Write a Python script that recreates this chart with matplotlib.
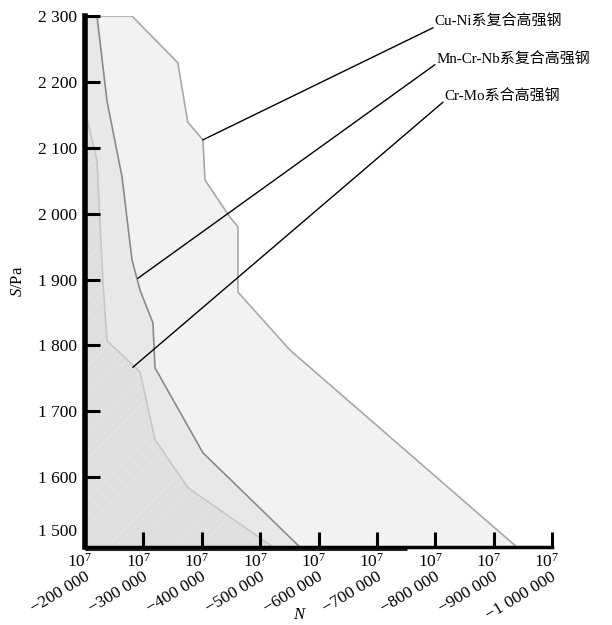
import matplotlib
matplotlib.use('Agg')
import matplotlib.pyplot as plt
import matplotlib.transforms as mtransforms

plt.rcParams['font.family'] = ['Liberation Serif', 'Noto Sans CJK SC', 'DejaVu Sans']
plt.rcParams['mathtext.fontset'] = 'custom'
plt.rcParams['mathtext.rm'] = 'Liberation Serif'
plt.rcParams['mathtext.it'] = 'Liberation Serif:italic'
plt.rcParams['hatch.linewidth'] = 0.6

# boundaries of the three regions (N magnitude, S)
cuni_x = [220500, 280500, 359000, 376000, 402000, 405500, 448000, 462000, 462000, 551000, 939700]
cuni_y = [2300, 2300, 2229, 2139, 2112, 2051, 1995, 1980, 1881, 1793, 1494]

mncrnb_x = [220500, 237700, 263400, 280500, 294200, 316400, 319900, 402000, 568000]
mncrnb_y = [2300, 2171, 2056, 1930, 1884, 1834, 1766, 1637, 1494]

crmo_x = [200000, 220500, 230800, 237700, 294200, 319900, 376300, 522000]
crmo_y = [2157, 2081, 1896, 1807, 1760, 1657, 1584, 1494]

# callout lines: (start point on region, end point at label)
labels = ['Cu-Ni系复合高强钢', 'Mn-Cr-Nb系复合高强钢', 'Cr-Mo系合高强钢']
call_start = [(402000, 2112), (290800, 1902), (282200, 1767)]
call_end = [(795900, 2282), (799300, 2226), (813000, 2169)]
label_y = [2291, 2233, 2177]

x_ticks = [200000, 300000, 400000, 500000, 600000, 700000, 800000, 900000, 1000000]
x_ticklabels = ['\u2212200 000', '\u2212300 000', '\u2212400 000', '\u2212500 000',
                '\u2212600 000', '\u2212700 000', '\u2212800 000', '\u2212900 000',
                '\u22121 000 000']
y_ticks = [1500, 1600, 1700, 1800, 1900, 2000, 2100, 2200, 2300]
y_ticklabels = ['1 500', '1 600', '1 700', '1 800', '1 900', '2 000', '2 100', '2 200', '2 300']

fig = plt.figure(figsize=(6.12, 6.25), dpi=100)
ax = fig.add_axes([85 / 612, 1 - 547 / 625, 467 / 612, 531 / 625])
x0, y0 = 200000, 1494

# Cu-Ni region
ax.fill_betweenx(cuni_y, x0, cuni_x, facecolor='#f2f2f2', edgecolor='none', zorder=1)
ax.plot(cuni_x, cuni_y, color='#a8a8a8', lw=1.2, zorder=2)
# Mn-Cr-Nb region
ax.fill_betweenx(mncrnb_y, x0, mncrnb_x, facecolor='#e8e8e8', edgecolor='none', zorder=3)
ax.plot(mncrnb_x, mncrnb_y, color='#8a8a8a', lw=1.2, zorder=4)
# Cr-Mo region
ax.fill_betweenx(crmo_y, x0, crmo_x, facecolor='#e0e0e0', edgecolor='#dbdbdb',
                 hatch='////', lw=0, zorder=5)
ax.plot(crmo_x, crmo_y, color='#c6c6c6', lw=1.2, zorder=6)

for (sx, sy), (ex, ey), lab, ly in zip(call_start, call_end, labels, label_y):
    ax.plot([sx, ex], [sy, ey], color='black', lw=1.0, zorder=7)
    ax.text(ex + 2500, ly, lab, fontsize=10.8, ha='left', va='center', zorder=8)

ax.set_xlim(200000, 1000000)
ax.set_ylim(y0, 2300)

for s in ['top', 'right']:
    ax.spines[s].set_visible(False)
ax.spines['left'].set_linewidth(4)
ax.spines['bottom'].set_linewidth(2.5)
for s in ['left', 'bottom']:
    ax.spines[s].set_zorder(10)
ax.xaxis.set_zorder(11)
ax.yaxis.set_zorder(11)

# shadow below the first part of the x-axis
ax.plot([200000, 751000], [0, 0], color='#222222', lw=2.2, solid_capstyle='butt',
        transform=mtransforms.offset_copy(ax.get_xaxis_transform(), fig, y=-2, units='dots'),
        clip_on=False, zorder=9)

ax.set_yticks(y_ticks)
ax.set_yticklabels(y_ticklabels, fontsize=12.5)
ax.tick_params(axis='y', direction='in', length=11, width=2.2, pad=6, color='black')
yt = ax.yaxis.get_major_ticks()[0]
yt.tick1line.set_visible(False)
yt.label1.set_transform(yt.label1.get_transform() +
                        mtransforms.ScaledTranslation(0, 13 / 100, fig.dpi_scale_trans))

ax.set_xticks(x_ticks[1:])
ax.set_xticklabels([])
ax.tick_params(axis='x', direction='in', length=11, width=2.2, color='black')

tr_top = mtransforms.offset_copy(ax.get_xaxis_transform(), fig, x=-5, y=-15, units='dots')
tr_rot = mtransforms.offset_copy(ax.get_xaxis_transform(), fig, x=-1, y=-22, units='dots')
for xv, lab in zip(x_ticks, x_ticklabels):
    ax.text(xv, 0, r'$\mathregular{10^7}$', fontsize=12.5, ha='center', va='center',
            transform=tr_top, clip_on=False)
    ax.text(xv, 0, lab, fontsize=12.5, ha='right', va='top', rotation=31,
            rotation_mode='anchor', transform=tr_rot, clip_on=False)

fig.text(300 / 612, 1 - 615 / 625, '$N$', fontsize=12, ha='center', va='center')
fig.text(18 / 612, 1 - 281 / 625, '$S$/Pa', fontsize=12, ha='center', va='center',
         rotation=90)

fig.savefig('out.png', dpi=100)
